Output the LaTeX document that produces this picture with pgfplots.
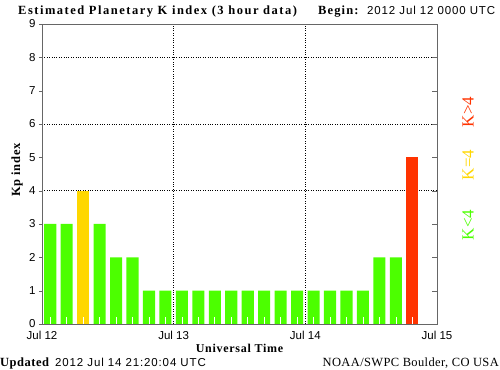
\documentclass[border=0pt]{standalone}
\usepackage{fontspec}
\setmainfont{Liberation Sans}
\setmonofont{Liberation Mono}
\newfontfamily\kserif{Liberation Serif}
\newfontfamily\labserif[LetterSpace=9]{Liberation Serif}
\usepackage{pgfplots}
\pgfplotsset{compat=1.18}
\definecolor{kgreen}{HTML}{4CFF00}
\definecolor{kyellow}{HTML}{FFD700}
\definecolor{kred}{HTML}{FF3300}
\newcommand{\sansdate}{\fontsize{11.5bp}{12bp}\selectfont\addfontfeature{LetterSpace=7.5}}
\begin{document}
\begin{tikzpicture}
\path[use as bounding box] (0bp,0bp) rectangle (500bp,370bp);
\begin{axis}[
  at={(42bp,46bp)}, anchor=south west, scale only axis,
  width=395bp, height=300bp,
  xmin=0, xmax=72, ymin=0, ymax=9,
  axis line style={black!60},
  xtick={0,24,48,72}, xticklabels={Jul 12,Jul 13,Jul 14,Jul 15},
  xtick style={draw=none},
  ytick={0,...,9}, ytick pos=left, xtick pos=bottom,
  tick align=outside, major tick length=3bp,
  ytick style={black!60},
  extra y ticks={4,6,8}, extra y tick labels={},
  extra y tick style={grid=major, major tick length=0pt},
  extra x ticks={24,48}, extra x tick labels={},
  extra x tick style={grid=major, major tick length=0pt},
  major grid style={black, line width=0.8bp, dash pattern=on 0.8bp off 1.6bp},
  tick label style={font=\fontsize{11.5bp}{12bp}\selectfont},
  /pgf/number format/assume math mode=true,
  xticklabel style={yshift=-1bp},
]
\addplot[ybar, bar width=2.2, bar shift=0pt, fill=kgreen, draw=none] coordinates {
(1.5,3) (4.5,3) (10.5,3) (13.5,2) (16.5,2) (19.5,1) (22.5,1)
(25.5,1) (28.5,1) (31.5,1) (34.5,1) (37.5,1) (40.5,1) (43.5,1) (46.5,1)
(49.5,1) (52.5,1) (55.5,1) (58.5,1) (61.5,2) (64.5,2)
};
\addplot[ybar, bar width=2.2, bar shift=0pt, fill=kyellow, draw=none] coordinates {(7.5,4)};
\addplot[ybar, bar width=2.2, bar shift=0pt, fill=kred, draw=none] coordinates {(67.5,5)};
\addplot[ycomb, white, line width=0.7bp, mark=none] coordinates {
(1.5,0.2) (4.5,0.2) (7.5,0.2) (10.5,0.2) (13.5,0.2) (16.5,0.2) (19.5,0.2) (22.5,0.2)
(25.5,0.2) (28.5,0.2) (31.5,0.2) (34.5,0.2) (37.5,0.2) (40.5,0.2) (43.5,0.2) (46.5,0.2)
(49.5,0.2) (52.5,0.2) (55.5,0.2) (58.5,0.2) (61.5,0.2) (64.5,0.2) (67.5,0.2)
};
\end{axis}
\begin{axis}[
  at={(42bp,46bp)}, anchor=south west, scale only axis,
  width=395bp, height=300bp,
  xmin=0, xmax=72, ymin=0, ymax=9,
  axis line style={black!60},
  xtick=\empty, ytick={0,...,9}, yticklabels={},
  ytick pos=right, tick align=inside, major tick length=4.5bp,
  ytick style={black!60},
]
\end{axis}
\node[anchor=base west, font=\labserif\bfseries\fontsize{12.5bp}{13bp}\selectfont\addfontfeature{LetterSpace=12}, inner sep=0pt] at (18bp,355bp) {Estimated Planetary K index (3 hour data)};
\node[anchor=base west, font=\labserif\bfseries\fontsize{12.5bp}{13bp}\selectfont, inner sep=0pt] at (318bp,355bp) {Begin:};
\node[anchor=base west, font=\sansdate, inner sep=0pt] at (367bp,355bp) {2012 Jul 12 0000 UTC};
\node[anchor=base west, font=\labserif\bfseries\fontsize{12.5bp}{13bp}\selectfont\addfontfeature{LetterSpace=4}, inner sep=0pt] at (0bp,3.5bp) {Updated};
\node[anchor=base west, font=\sansdate, inner sep=0pt] at (55bp,3.5bp) {2012 Jul 14 21:20:04 UTC};
\node[anchor=base east, font=\labserif\fontsize{12.5bp}{13bp}\selectfont\addfontfeature{LetterSpace=3}, inner sep=0pt] at (499bp,3.5bp) {NOAA/SWPC Boulder, CO USA};
\node[anchor=base, font=\labserif\bfseries\fontsize{12bp}{13bp}\selectfont\addfontfeature{LetterSpace=6}, inner sep=0pt] at (239.5bp,18bp) {Universal Time};
\node[rotate=90, font=\labserif\bfseries\fontsize{12.5bp}{13bp}\selectfont\addfontfeature{LetterSpace=6}, inner sep=0pt] at (17bp,200bp) {Kp index};
\node[rotate=90, font=\kserif\fontsize{17bp}{18bp}\selectfont, text=kgreen, inner sep=0pt] at (468bp,145bp) {K<4};
\node[rotate=90, font=\kserif\fontsize{17bp}{18bp}\selectfont, text=kyellow, inner sep=0pt] at (468bp,205bp) {K=4};
\node[rotate=90, font=\kserif\fontsize{17bp}{18bp}\selectfont, text=kred, inner sep=0pt] at (468bp,258bp) {K>4};
\end{tikzpicture}
\end{document}
